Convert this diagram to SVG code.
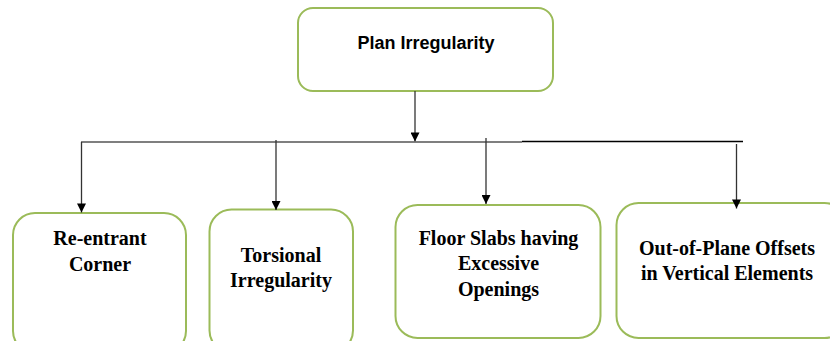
<svg xmlns="http://www.w3.org/2000/svg" width="830" height="341" viewBox="0 0 830 341">
<defs>
<style>
.box{fill:#fff;stroke:#9BBB59;stroke-width:2}
.t{font-family:"Liberation Serif","Times New Roman",serif;font-weight:bold;font-size:20px;fill:#000;text-anchor:middle}
.h{font-family:"Liberation Sans",Arial,sans-serif;font-weight:bold;font-size:18px;fill:#000;text-anchor:middle}
.ln{stroke:#333;stroke-width:1.3;fill:none}
</style>
<marker id="ah" viewBox="0 0 10 10" refX="10" refY="5" markerWidth="10" markerHeight="9" markerUnits="userSpaceOnUse" orient="auto">
<path d="M0,0 L10,5 L0,10 Z" fill="#000"/>
</marker>
</defs>
<rect width="830" height="341" fill="#fff"/>
<g id="plan">
<rect class="box" x="298" y="8" width="255" height="83" rx="15"/>
<text class="h" x="426" y="49">Plan Irregularity</text>
</g>
<g id="reentrant">
<rect class="box" x="13" y="213" width="173" height="140" rx="22"/>
<text class="t" x="100" y="245">Re-entrant</text>
<text class="t" x="100" y="271">Corner</text>
</g>
<g id="torsional">
<rect class="box" x="209.5" y="209.5" width="143.5" height="143" rx="22"/>
<text class="t" x="281" y="262">Torsional</text>
<text class="t" x="281" y="287">Irregularity</text>
</g>
<g id="floor">
<rect class="box" x="395.5" y="205" width="205" height="133" rx="22"/>
<text class="t" x="498.5" y="245">Floor Slabs having</text>
<text class="t" x="498.5" y="269.5">Excessive</text>
<text class="t" x="498.5" y="296">Openings</text>
</g>
<g id="outofplane">
<rect class="box" x="616.5" y="203" width="230" height="135" rx="22"/>
<text class="t" x="727" y="255">Out-of-Plane Offsets</text>
<text class="t" x="727" y="280">in Vertical Elements</text>
</g>
<g id="connectors">
<line class="ln" x1="415" y1="91" x2="415" y2="141.5" marker-end="url(#ah)"/>
<line class="ln" x1="81" y1="142" x2="522" y2="142" style="stroke:#555"/>
<line class="ln" x1="522" y1="141.5" x2="743" y2="141.5" style="stroke:#000"/>
<line class="ln" x1="81.5" y1="142" x2="81.5" y2="212.5" marker-end="url(#ah)"/>
<line class="ln" x1="276" y1="140" x2="276" y2="210" marker-end="url(#ah)"/>
<line class="ln" x1="486" y1="138" x2="486" y2="204" marker-end="url(#ah)"/>
<line class="ln" x1="736.5" y1="144" x2="736.5" y2="208.5" marker-end="url(#ah)"/>
</g>
</svg>
